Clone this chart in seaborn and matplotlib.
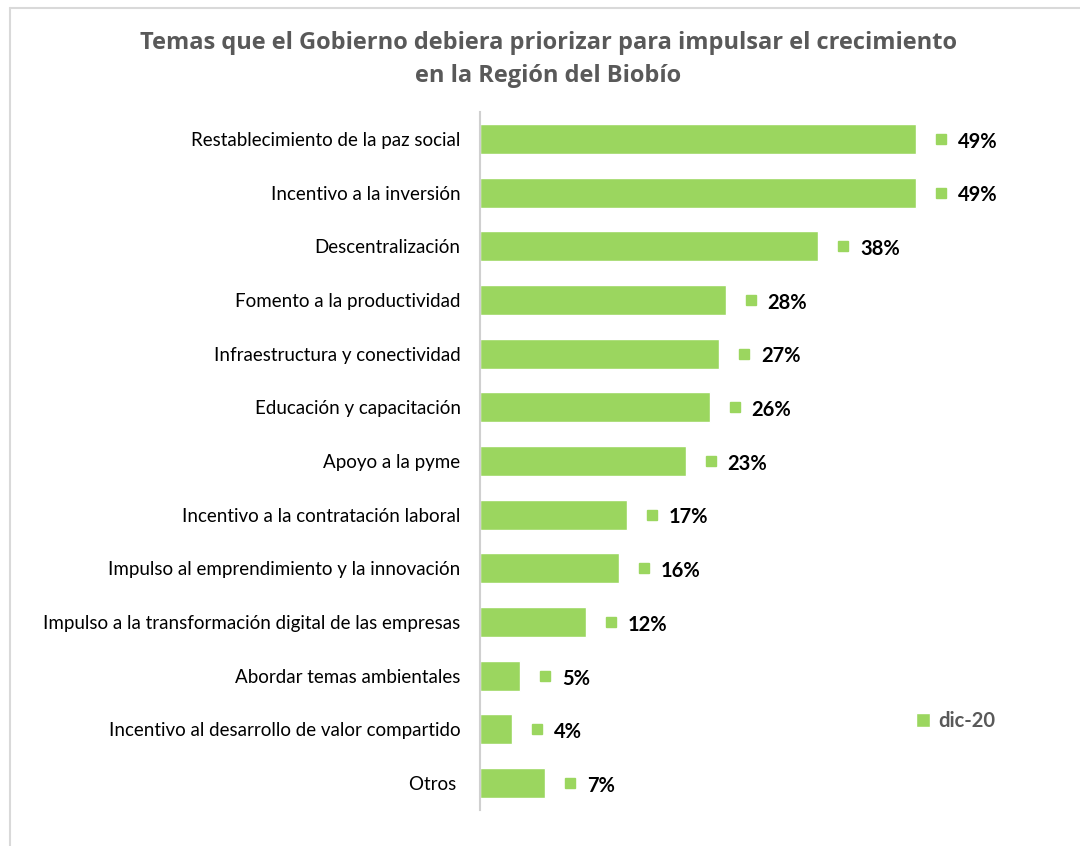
import matplotlib
matplotlib.use("Agg")
import matplotlib.pyplot as plt
import matplotlib.transforms as mtransforms
import seaborn as sns
import pandas as pd

temas = [
    "Restablecimiento de la paz social",
    "Incentivo a la inversión",
    "Descentralización",
    "Fomento a la productividad",
    "Infraestructura y conectividad",
    "Educación y capacitación",
    "Apoyo a la pyme",
    "Incentivo a la contratación laboral",
    "Impulso al emprendimiento y la innovación",
    "Impulso a la transformación digital de las empresas",
    "Abordar temas ambientales",
    "Incentivo al desarrollo de valor compartido",
    "Otros ",
]
valores = [49.0, 49.0, 38.0, 27.6, 26.9, 25.8, 23.1, 16.5, 15.6, 11.9, 4.5, 3.6, 7.3]
etiquetas = ["49%", "49%", "38%", "28%", "27%", "26%", "23%", "17%", "16%", "12%", "5%", "4%", "7%"]
serie = "dic-20"

verde = "#9BD65F"
gris = "#595959"

sns.set_style("white")
plt.rcParams["font.family"] = ["Lato", "DejaVu Sans"]

df = pd.DataFrame({"tema": temas, "valor": valores})

W, H = 1080, 846
fig = plt.figure(figsize=(W / 100, H / 100), dpi=100)
ax = fig.add_axes([480 / W, 1 - 810 / H, (1010 - 480) / W, (810 - 112) / H])

sns.barplot(data=df, y="tema", x="valor", color=verde, width=0.56,
            saturation=1, ax=ax, label=serie)

ax.set_xlim(0, 59.55)
ax.set_ylim(12.5, -0.5)
ax.set_xlabel("")
ax.set_ylabel("")
ax.set_xticks([])
ax.tick_params(axis="y", length=0, pad=14, labelsize=13.5, labelcolor="#000000")
for s in ["top", "right", "bottom"]:
    ax.spines[s].set_visible(False)
ax.spines["left"].set_color("#D0D0D0")
ax.spines["left"].set_linewidth(1.5)

# marcador cuadrado + etiqueta de dato
mk_tr = mtransforms.offset_copy(ax.transData, fig=fig, x=25, y=0, units="dots")
for i, (v, lab) in enumerate(zip(valores, etiquetas)):
    ax.plot([v], [i], marker="s", markersize=7.5, color=verde, transform=mk_tr,
            clip_on=False, linestyle="none")
    ax.annotate(lab, (v, i), xytext=(30, -2), textcoords="offset points",
                ha="left", va="center", fontsize=14.5, fontweight="bold", color="#000000")

leg = ax.legend(loc="center left", bbox_to_anchor=(898 / W, 1 - 721 / H),
                bbox_transform=fig.transFigure, frameon=False, fontsize=14.5,
                handlelength=0.7, handleheight=0.7, handletextpad=0.4)
for t in leg.get_texts():
    t.set_color(gris)
    t.set_fontweight("bold")

fig.text(548 / W, 1 - 43 / H, "Temas que el Gobierno debiera priorizar para impulsar el crecimiento",
         ha="center", va="center", fontsize=17, fontweight="bold", color=gris,
         family=["Open Sans", "DejaVu Sans"])
fig.text(548 / W, 1 - 76 / H, "en la Región del Biobío",
         ha="center", va="center", fontsize=17, fontweight="bold", color=gris,
         family=["Open Sans", "DejaVu Sans"])

# marco del gráfico
fig.add_artist(plt.Line2D([10 / W, 10 / W], [0, 1 - 8 / H], transform=fig.transFigure,
                          color="#D9D9D9", linewidth=1.5))
fig.add_artist(plt.Line2D([10 / W, 1], [1 - 8 / H, 1 - 8 / H], transform=fig.transFigure,
                          color="#D9D9D9", linewidth=1.5))

fig.savefig("out.png", dpi=100, facecolor="white")
